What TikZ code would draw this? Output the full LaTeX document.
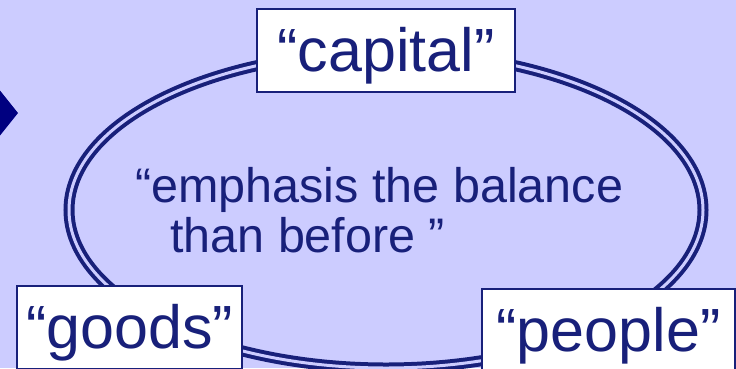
\documentclass[tikz,border=0pt]{standalone}
\usepackage{fontspec}
\setmainfont{Liberation Sans}
\usepackage{tikz}
\usetikzlibrary{positioning, shapes.geometric}

\definecolor{paleviolet}{RGB}{204,204,255}
\definecolor{inknavy}{RGB}{24,32,122}
\definecolor{pointernavy}{RGB}{0,0,128}

\begin{document}
\begin{tikzpicture}[
  x=1pt, y=-1pt,
  cycle/.style={
    draw=inknavy, ellipse, line width=4pt, double=paleviolet,
    double distance=3pt, minimum width=634pt, minimum height=316pt,
    inner sep=0pt
  },
  label/.style={
    draw=inknavy, fill=white, line width=1.8pt, inner sep=0pt,
    minimum height=83pt, text height=46pt, text depth=5pt, text=inknavy,
    font=\fontsize{61}{70}\selectfont
  },
  quote/.style={
    text=inknavy, inner sep=0pt, anchor=base west,
    font=\fontsize{48.5}{56}\selectfont
  }
]

% Background and page
\fill[paleviolet] (0,0) rectangle (736,368);
\useasboundingbox (0,0) rectangle (736,368);

% Pointer at the left edge
\fill[pointernavy] (-10,78) -- (18,113) -- (-10,148) -- cycle;

% The balance ring
\node[cycle] (ring) at (386,210) {};

% Inner statement
\node[quote] (lineone) at (135,202) {“emphasis the balance};
\node[quote] (linetwo) at (170,252) {than before ”};

% Three corners
\node[label, minimum width=258pt] (capital) at (386,50.5) {“capital”};
\node[label, minimum width=225pt] (goods) at (129.5,327.5) {“goods”};
\node[label, minimum width=253pt] (people) at (608.5,330.5) {“people”};

\end{tikzpicture}
\end{document}
